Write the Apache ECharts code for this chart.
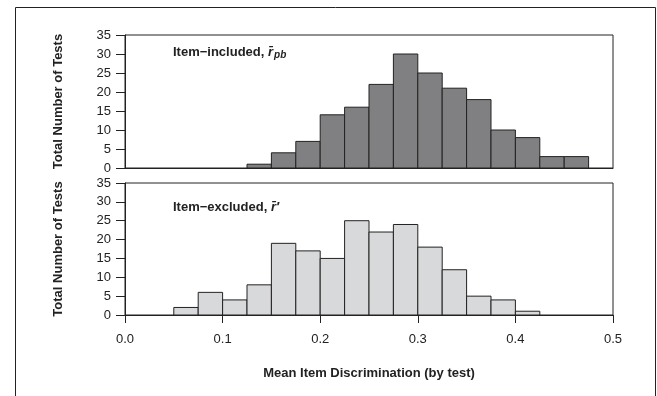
<!DOCTYPE html>
<html>
<head>
<meta charset="utf-8">
<script src="https://cdn.jsdelivr.net/npm/echarts@6/dist/echarts.min.js"></script>
<style>
html,body{margin:0;padding:0;background:#fff;}
#chart{width:657px;height:396px;}
</style>
</head>
<body>
<div id="chart"></div>
<script>
// ---- data ----
const binWidth = 0.025;
const includedBinStarts = [0.125, 0.150, 0.175, 0.200, 0.225, 0.250, 0.275, 0.300, 0.325, 0.350, 0.375, 0.400, 0.425, 0.450];
const includedCounts    = [1, 4, 7, 14, 16, 22, 30, 25, 21, 18, 10, 8, 3, 3];
const excludedBinStarts = [0.050, 0.075, 0.100, 0.125, 0.150, 0.175, 0.200, 0.225, 0.250, 0.275, 0.300, 0.325, 0.350, 0.375, 0.400];
const excludedCounts    = [2, 6, 4, 8, 19, 17, 15, 25, 22, 24, 18, 12, 5, 4, 1];
const yTicks = [0, 5, 10, 15, 20, 25, 30, 35];
const xTicks = [0.0, 0.1, 0.2, 0.3, 0.4, 0.5];
const yTitle = 'Total Number of Tests';
const xTitle = 'Mean Item Discrimination (by test)';

const FONT = '"Liberation Sans", Arial, Helvetica, sans-serif';
const INK = '#222';

function histData(starts, counts) {
  return starts.map((s, i) => [s, s + binWidth, counts[i]]);
}
function makeRender(fill) {
  return function (params, api) {
    const p0 = api.coord([api.value(0), api.value(2)]);
    const p1 = api.coord([api.value(1), 0]);
    return {
      type: 'rect',
      shape: { x: p0[0], y: p0[1], width: p1[0] - p0[0], height: p1[1] - p0[1] },
      style: { fill: fill, stroke: INK, lineWidth: 1 }
    };
  };
}

const yAxisCommon = {
  type: 'value', min: yTicks[0], max: yTicks[yTicks.length - 1], interval: 5,
  name: yTitle, nameLocation: 'middle', nameGap: 60,
  nameTextStyle: { fontFamily: FONT, fontWeight: 'bold', fontSize: 13, color: INK },
  axisLine: { show: true, lineStyle: { color: INK, width: 1 } },
  axisTick: { show: true, inside: false, length: 9, lineStyle: { color: INK } },
  axisLabel: { fontFamily: FONT, fontSize: 13, color: INK, margin: 14 },
  splitLine: { show: false }
};

const chart = echarts.init(document.getElementById('chart'), null, { renderer: 'canvas' });
chart.setOption({
  animation: false,
  backgroundColor: '#fff',
  grid: [
    { left: 125, right: 44, top: 35, height: 133, show: true, borderColor: INK, borderWidth: 1 },
    { left: 125, right: 44, top: 183, height: 132, show: true, borderColor: INK, borderWidth: 1 }
  ],
  xAxis: [
    { type: 'value', gridIndex: 0, min: 0, max: 0.5, interval: 0.1,
      axisLine: { show: true, onZero: false, lineStyle: { color: INK } },
      axisTick: { show: false }, axisLabel: { show: false }, splitLine: { show: false } },
    { type: 'value', gridIndex: 1, min: 0, max: 0.5, interval: 0.1,
      name: xTitle, nameLocation: 'middle', nameGap: 52,
      nameTextStyle: { fontFamily: FONT, fontWeight: 'bold', fontSize: 13, color: INK },
      axisLine: { show: true, onZero: false, lineStyle: { color: INK } },
      axisTick: { show: true, length: 8, lineStyle: { color: INK } },
      axisLabel: { fontFamily: FONT, fontSize: 13, color: INK, margin: 18,
                   formatter: v => v.toFixed(1) },
      splitLine: { show: false } }
  ],
  yAxis: [
    Object.assign({ gridIndex: 0 }, yAxisCommon),
    Object.assign({ gridIndex: 1 }, yAxisCommon)
  ],
  series: [
    { type: 'custom', xAxisIndex: 0, yAxisIndex: 0, renderItem: makeRender('#808083'),
      data: histData(includedBinStarts, includedCounts) },
    { type: 'custom', xAxisIndex: 1, yAxisIndex: 1, renderItem: makeRender('#d8d9db'),
      data: histData(excludedBinStarts, excludedCounts) }
  ],
  graphic: [
    { type: 'rect', left: 13, top: 5, silent: true,
      shape: { width: 640, height: 420 },
      style: { fill: 'none', stroke: INK, lineWidth: 1 } },
    { type: 'text', left: 173, top: 46, silent: true,
      style: {
        text: '{a|Item\u2212included, }{r|r\u0304}{s|pb}',
        rich: {
          a: { fontFamily: FONT, fontWeight: 'bold', fontSize: 13, fill: INK },
          r: { fontFamily: FONT, fontWeight: 'bold', fontStyle: 'italic', fontSize: 13, fill: INK },
          s: { fontFamily: FONT, fontWeight: 'bold', fontStyle: 'italic', fontSize: 10, fill: INK, padding: [6, 0, 0, 1] }
        }
      } },
    { type: 'text', left: 173, top: 201, silent: true,
      style: {
        text: '{a|Item\u2212excluded, }{r|r\u0304\u2032}',
        rich: {
          a: { fontFamily: FONT, fontWeight: 'bold', fontSize: 13, fill: INK },
          r: { fontFamily: FONT, fontWeight: 'bold', fontStyle: 'italic', fontSize: 13, fill: INK }
        }
      } }
  ]
});
</script>
</body>
</html>
